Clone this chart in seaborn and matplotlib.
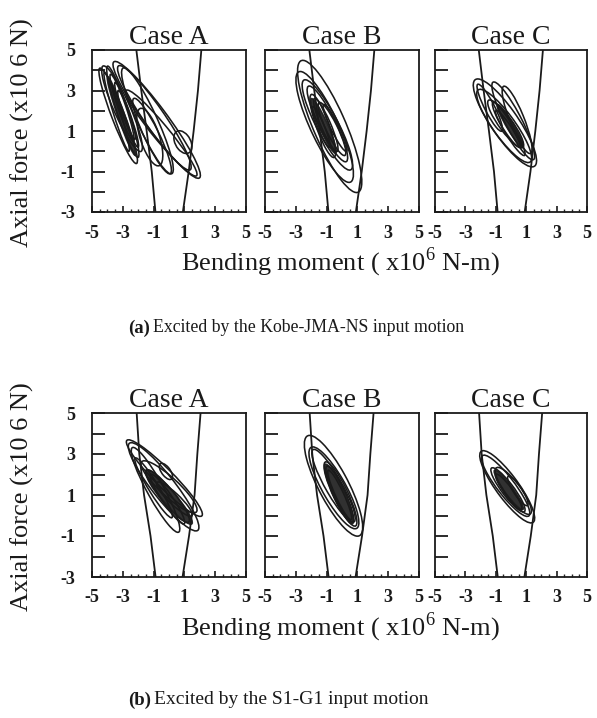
import numpy as np
import matplotlib
matplotlib.use("Agg")
import matplotlib.pyplot as plt
import seaborn as sns
import pandas as pd
from matplotlib.patches import Ellipse

sns.set_theme(style="white")
plt.rcParams['font.family'] = ['Liberation Serif', 'DejaVu Serif']
plt.rcParams['mathtext.fontset'] = 'custom'
plt.rcParams['mathtext.rm'] = 'Liberation Serif'
plt.rcParams['axes.unicode_minus'] = False

# ---------------- data ----------------
cases = ["Case A", "Case B", "Case C"]
x_ticks = [-5, -3, -1, 1, 3, 5]
y_ticks = [-3, -1, 1, 3, 5]
captions = ["Excited by the Kobe-JMA-NS input motion", "Excited by the S1-G1 input motion"]
caption_tags = ["(a)", "(b)"]

# interaction diagram (axial force levels and bending moment boundaries)
N_int = [5, 3, 1, -1, -3]
M_left_kobe = [-2.12, -1.80, -1.45, -1.12, -0.88]
M_right_kobe = [2.10, 1.88, 1.60, 1.28, 0.90]
M_left_s1g1 = [-2.10, -1.93, -1.62, -1.20, -0.87]
M_right_s1g1 = [2.05, 1.84, 1.66, 1.30, 0.88]

# hysteresis loops: (M tip1, N tip1, M tip2, N tip2, loop width)
loops_kobe_A = [(-4.5, 4.1, -2.1, -0.6, 0.8), (-4.3, 4.2, -1.8, 0.0, 1.0),
                (-4.0, 4.2, -2.0, -0.3, 0.7), (-3.6, 4.4, 2.0, -1.3, 1.3),
                (-3.3, 4.2, 1.4, -0.9, 1.2), (-3.0, 4.1, 0.2, -1.1, 1.2),
                (-2.3, 2.6, 0.1, -1.1, 0.9), (-1.9, 2.1, -0.6, -0.7, 1.2),
                (0.4, 0.9, 1.4, 0.0, 0.9), (-3.8, 3.8, -2.3, 0.5, 0.5),
                (-3.5, 3.4, -2.0, 0.2, 0.45), (-3.3, 3.0, -2.2, 0.6, 0.4),
                (-4.2, 3.9, -2.6, 0.0, 0.45), (-2.8, 3.0, 1.8, -1.2, 0.9)]
core_kobe_A = [(-4.0, 3.7, -2.2, -0.2, 0.45)]

loops_kobe_B = [(-2.7, 4.45, 1.1, -2.0, 2.0), (-2.85, 3.9, 0.6, -1.5, 1.7),
                (-2.5, 3.5, 0.6, -0.9, 1.3), (-2.2, 3.2, 0.3, -0.5, 1.0),
                (-2.0, 2.8, -0.5, -0.3, 0.8), (-1.8, 2.6, -0.3, 0.0, 0.6),
                (-1.5, 2.4, 0.2, -0.2, 0.7), (-1.9, 2.2, -0.8, 0.2, 0.4),
                (-1.2, 2.3, 0.3, 0.0, 0.5)]
core_kobe_B = [(-2.0, 2.6, -0.4, -0.1, 0.55)]

loops_kobe_C = [(-2.4, 3.5, 1.6, -0.7, 1.6), (-2.2, 3.0, 1.3, -0.5, 1.3),
                (-1.2, 3.4, 1.5, -0.4, 1.0), (-0.5, 3.2, 1.3, -0.1, 0.9),
                (-1.5, 2.5, 0.8, 0.2, 0.8), (-1.2, 2.4, 0.9, -0.2, 0.6),
                (-1.0, 2.0, 0.6, 0.2, 0.45), (-2.2, 3.3, -0.6, 1.0, 0.6)]
core_kobe_C = [(-0.9, 2.3, 0.8, 0.2, 0.45)]

loops_s1g1_A = [(-2.75, 3.65, 2.15, 0.0, 1.0), (-2.6, 3.5, 1.9, -0.7, 1.3),
                (-2.4, 3.3, 0.65, -0.8, 1.0), (-1.8, 2.6, 1.8, 0.2, 1.0),
                (-1.5, 2.2, 1.3, -0.3, 0.8), (-1.2, 2.0, 1.0, -0.4, 0.6),
                (-0.8, 1.6, 1.5, 0.0, 0.6), (-2.2, 2.8, 0.2, -0.1, 0.6),
                (-0.6, 2.5, 0.2, 1.8, 0.5)]
core_s1g1_A = [(-1.5, 2.2, 1.5, -0.4, 0.75)]

loops_s1g1_B = [(-2.3, 3.85, 1.2, -0.95, 1.8), (-2.05, 3.3, 1.0, -0.6, 1.4),
                (-1.9, 3.2, 0.8, -0.3, 1.0), (-1.1, 2.6, 0.9, -0.5, 0.9),
                (-1.0, 2.4, 0.7, -0.3, 0.7), (-0.9, 2.2, 0.6, -0.2, 0.5)]
core_s1g1_B = [(-1.1, 2.5, 0.7, -0.4, 0.7)]

loops_s1g1_C = [(-2.0, 3.1, 1.5, -0.3, 1.3), (-1.9, 2.9, 1.2, 0.0, 1.0),
                (-1.0, 2.3, 1.3, 0.1, 0.9), (-1.3, 2.3, 0.9, 0.2, 0.7),
                (-1.0, 2.0, 0.7, 0.3, 0.5), (-0.2, 1.9, 1.1, 0.5, 0.5)]
core_s1g1_C = [(-1.1, 2.2, 0.8, 0.3, 0.5)]

rows = [
    dict(loops=[loops_kobe_A, loops_kobe_B, loops_kobe_C],
         cores=[core_kobe_A, core_kobe_B, core_kobe_C],
         left=M_left_kobe, right=M_right_kobe),
    dict(loops=[loops_s1g1_A, loops_s1g1_B, loops_s1g1_C],
         cores=[core_s1g1_A, core_s1g1_B, core_s1g1_C],
         left=M_left_s1g1, right=M_right_s1g1),
]

# ---------------- layout ----------------
W, H = 597, 718
fig = plt.figure(figsize=(W / 100, H / 100), dpi=100)


def fx(px):
    return px / W


def fy(py):
    return 1 - py / H


def loop_patch(m1, n1, m2, n2, w, **kw):
    cx, cy = (m1 + m2) / 2, (n1 + n2) / 2
    L = np.hypot(m2 - m1, n2 - n1)
    ang = np.degrees(np.arctan2(n2 - n1, m2 - m1))
    return Ellipse((cx, cy), L, w, angle=ang, **kw)


panel_x = [(92, 246), (265, 419), (435, 587)]
row_y = [(50, 212), (413, 577)]

for r, row in enumerate(rows):
    top, bot = row_y[r]
    for c in range(3):
        l, rt = panel_x[c]
        ax = fig.add_axes([fx(l), fy(bot), (rt - l) / W, (bot - top) / H])
        # interaction diagram lines
        sns.lineplot(x=row["left"], y=N_int, sort=False, estimator=None,
                     color='k', lw=1.3, ax=ax)
        sns.lineplot(x=row["right"], y=N_int, sort=False, estimator=None,
                     color='k', lw=1.3, ax=ax)
        for p in row["cores"][c]:
            ax.add_patch(loop_patch(*p, fill=True, fc='k', ec='k', lw=1.0,
                                    alpha=0.9))
        for p in row["loops"][c]:
            ax.add_patch(loop_patch(*p, fill=False, ec='k', lw=1.15))
        ax.set_xlim(-5, 5)
        ax.set_ylim(-3, 5)
        ax.set_xticks(x_ticks)
        ax.set_xticks(np.arange(-5, 5.01, 0.5), minor=True)
        ax.set_yticks(list(range(-3, 6)))
        ax.set_yticklabels([str(v) if v in y_ticks else '' for v in range(-3, 6)]
                           if c == 0 else [''] * 9)
        ax.set_xticklabels([str(v) for v in x_ticks])
        for lab in ax.get_xticklabels() + ax.get_yticklabels():
            lab.set_fontsize(13)
            lab.set_fontweight('bold')
        ax.tick_params(axis='y', which='major', direction='in', length=9,
                       width=1.3, left=True, right=False, pad=12, colors='k')
        ax.tick_params(axis='x', which='major', direction='in', length=4.5,
                       width=1.2, bottom=True, top=False, pad=9, colors='k')
        ax.tick_params(axis='x', which='minor', direction='in', length=2.5,
                       width=1.0, bottom=True, top=False)
        for s in ax.spines.values():
            s.set_color('k')
            s.set_linewidth(1.3)
        ax.set_xlabel('')
        ax.set_ylabel('')
        ax.set_title(cases[c], fontsize=20, pad=0, color='k')

    # y label
    fig.text(fx(22), fy((top + bot) / 2 + 2), "Axial force (x10 6 N)",
             rotation=90, ha='center', va='center', fontsize=19, color='k')
    # x label
    fig.text(fx(340), fy(bot + 50), "Bending moment ( x10$^{6}$ N-m)",
             ha='center', va='center', fontsize=19, color='k')

# captions: bold tag followed by the plain text
cap_y = [328, 700]
cap_split = [150, 151]
cap_size = [12.8, 14]
for i in range(2):
    fig.text(fx(cap_split[i]), fy(cap_y[i]), caption_tags[i],
             ha='right', va='center', fontsize=13.5, fontweight='bold', color='k')
    fig.text(fx(cap_split[i] + 3), fy(cap_y[i]), captions[i],
             ha='left', va='center', fontsize=cap_size[i], color='k')

fig.savefig("out.png", dpi=100, facecolor='white')
